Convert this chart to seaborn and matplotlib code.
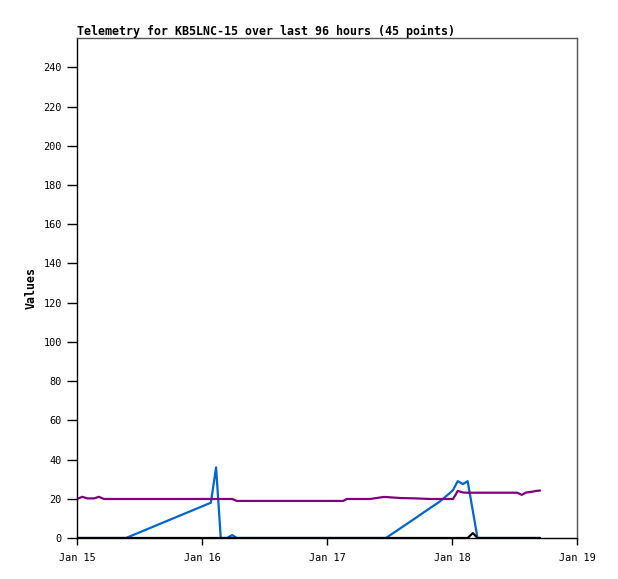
import datetime as dt
import matplotlib
matplotlib.use("Agg")
import matplotlib.pyplot as plt
import matplotlib.dates as mdates
import pandas as pd
import seaborn as sns

# hours after Jan 15 00:00 for each telemetry sample
hours = [0.0, 1.0, 2.0, 3.3, 4.2, 5.2, 9.4, 25.7, 26.7, 27.6,
         28.8, 29.8, 30.7, 32.0, 35.1, 40.9, 44.0, 46.7, 51.1, 51.8,
         54.0, 56.3, 58.8, 59.3, 62.0, 65.0, 67.8, 69.5, 71.6, 72.2,
         73.1, 74.1, 75.0, 76.0, 76.9, 78.1, 79.2, 81.2, 83.1, 84.5,
         85.4, 86.2, 87.2, 88.1, 88.9]

blue = [0, 0, 0, 0, 0, 0, 0, 18, 36, 0,
        0, 1.5, 0, 0, 0, 0, 0, 0, 0, 0,
        0, 0, 0, 0, 4.8, 10.2, 15.3, 18.3, 23, 24.5,
        29, 27.5, 29, 13.7, 0, 0, 0, 0, 0, 0,
        0, 0, 0, 0, 0]

purple = [19.9, 21, 20.2, 20.2, 21, 19.9, 19.9, 19.9, 19.9, 19.9,
          19.9, 19.9, 18.9, 18.9, 18.9, 18.9, 18.9, 18.9, 18.9, 19.9,
          19.9, 19.9, 20.9, 20.9, 20.4, 20.2, 19.9, 19.9, 19.9, 19.9,
          24, 23.2, 23.1, 23.1, 23.1, 23.1, 23.1, 23.1, 23.1, 23.1,
          22, 23.2, 23.5, 24, 24.2]

black = [0, 0, 0, 0, 0, 0, 0, 0, 0, 0,
         0, 0, 0, 0, 0, 0, 0, 0, 0, 0,
         0, 0, 0, 0, 0, 0, 0, 0, 0, 0,
         0, 0, 0, 2.5, 0, 0, 0, 0, 0, 0,
         0, 0, 0, 0, 0]

y_ticks = list(range(0, 241, 20))
start = dt.datetime(2024, 1, 15)
times = [start + dt.timedelta(hours=h) for h in hours]

df = pd.DataFrame({"time": times, "blue": blue, "purple": purple, "black": black})
long_df = df.melt(id_vars="time", var_name="series", value_name="value")

sns.set_style("white")
plt.rcParams["font.family"] = ["DejaVu Sans Mono"]
plt.rcParams["text.color"] = "black"
plt.rcParams["axes.labelcolor"] = "black"
plt.rcParams["xtick.color"] = "black"
plt.rcParams["ytick.color"] = "black"

fig = plt.figure(figsize=(6.18, 5.79), dpi=100)
ax = fig.add_axes([0.1246, 0.0708, 0.8091, 0.8636])

sns.lineplot(data=long_df, x="time", y="value", hue="series",
             palette={"blue": "#0066cc", "purple": "#7f007f", "black": "#000000"},
             hue_order=["blue", "purple", "black"],
             linewidth=1.6, legend=False, ax=ax, estimator=None, sort=False)

ax.set_xlim(start, start + dt.timedelta(days=4))
ax.set_ylim(0, 255)
ax.set_yticks(y_ticks)
ax.xaxis.set_major_locator(mdates.DayLocator())
ax.xaxis.set_major_formatter(mdates.DateFormatter("%b %d"))

ax.set_xlabel("")
ax.set_ylabel("Values", fontsize=8.4, fontweight="bold", labelpad=4)
ax.set_title("Telemetry for KB5LNC-15 over last 96 hours (45 points)",
             fontsize=8.4, fontweight="bold", loc="left", pad=2)

ax.tick_params(axis="y", direction="out", length=7, width=1, labelsize=7.4, pad=4, left=True)
ax.tick_params(axis="x", direction="out", length=5, width=1, labelsize=7.4, pad=6, bottom=True)

ax.spines["left"].set_color("black")
ax.spines["bottom"].set_color("black")
ax.spines["top"].set_color("#555555")
ax.spines["right"].set_color("#555555")
for s in ax.spines.values():
    s.set_linewidth(1)

fig.savefig("out.png", dpi=100)
